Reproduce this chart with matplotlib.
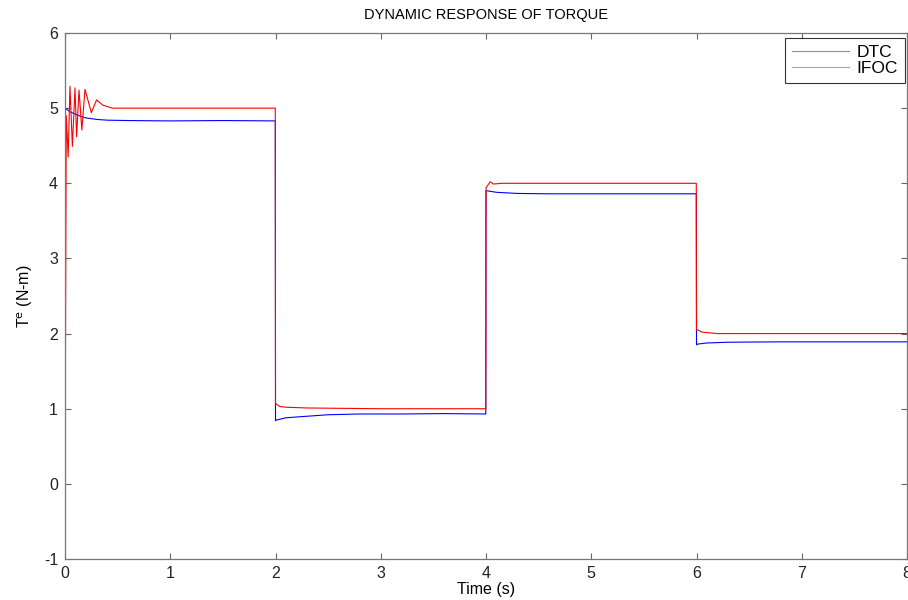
import matplotlib.pyplot as plt

plt.rcParams['font.family'] = ['Liberation Sans', 'DejaVu Sans']
plt.rcParams['axes.unicode_minus'] = False

# torque breakpoints (time in s, torque in N-m)
dtc_t = [0.0, 0.003, 0.02, 0.05, 0.1, 0.15, 0.2, 0.3, 0.4, 0.6, 1.0, 1.5, 1.998,
         2.0, 2.01, 2.1, 2.3, 2.5, 2.8, 3.2, 3.6, 3.998,
         4.0, 4.01, 4.1, 4.3, 4.6, 5.0, 5.5, 5.998,
         6.0, 6.01, 6.1, 6.3, 6.8, 7.4, 8.0]
dtc_v = [0.0, 5.0, 4.98, 4.95, 4.92, 4.89, 4.87, 4.85, 4.84, 4.835, 4.83, 4.835, 4.83,
         0.84, 0.85, 0.88, 0.9, 0.92, 0.93, 0.93, 0.935, 0.93,
         3.9, 3.9, 3.88, 3.865, 3.86, 3.86, 3.86, 3.86,
         1.85, 1.86, 1.875, 1.885, 1.89, 1.89, 1.89]

ifoc_t = [0.0, 0.012, 0.03, 0.047, 0.07, 0.095, 0.11, 0.133, 0.16, 0.19, 0.25, 0.30,
          0.36, 0.45, 1.0, 1.998,
          2.0, 2.01, 2.04, 2.1, 2.3, 3.0, 3.998,
          4.0, 4.01, 4.04, 4.07, 4.15, 5.0, 5.998,
          6.0, 6.01, 6.05, 6.2, 7.0, 8.0]
ifoc_v = [0.0, 4.9, 4.35, 5.29, 4.49, 5.27, 4.62, 5.24, 4.71, 5.25, 4.94, 5.11,
          5.04, 5.0, 5.0, 5.0,
          1.07, 1.06, 1.03, 1.02, 1.01, 1.0, 1.0,
          3.94, 3.96, 4.02, 3.99, 4.0, 4.0, 4.0,
          2.05, 2.05, 2.02, 2.0, 2.0, 2.0]

x_ticks = list(range(0, 9))
y_ticks = list(range(-1, 7))

fig = plt.figure(figsize=(9.08, 6.0), dpi=100)
ax = fig.add_axes([0.0716, 0.0683, 0.9273, 0.8767])

ax.plot(dtc_t, dtc_v, color=(0, 0, 1), lw=0.8, label='DTC')
ax.plot(ifoc_t, ifoc_v, color=(1, 0, 0), lw=0.8, label='IFOC')

ax.set_xlim(0, 8)
ax.set_ylim(-1, 6)
ax.set_xticks(x_ticks)
ax.set_yticks(y_ticks)
ax.tick_params(direction='in', top=True, right=True, length=4, width=0.8,
               color='#666666', labelsize=11.5, labelcolor='#222222', pad=5)
for sp in ax.spines.values():
    sp.set_color('#777777')
    sp.set_linewidth(0.9)

ax.set_title('DYNAMIC RESPONSE OF TORQUE', fontsize=10.5, pad=10)
ax.set_xlabel('Time (s)', fontsize=11.5, labelpad=1)
ax.set_ylabel(r'T$^{\mathrm{e}}$ (N-m)', fontsize=11.5, labelpad=6)

leg = ax.legend(loc='upper right', bbox_to_anchor=(0.9976, 0.9905), fontsize=12.5,
                frameon=True, fancybox=False, borderaxespad=0, handlelength=3.3,
                handletextpad=0.4, labelspacing=0.02, borderpad=0.42)
leg.get_frame().set_edgecolor('black')
leg.get_frame().set_linewidth(0.8)
for line in leg.get_lines():
    line.set_alpha(0.5)

fig.savefig('out.png', dpi=100)
